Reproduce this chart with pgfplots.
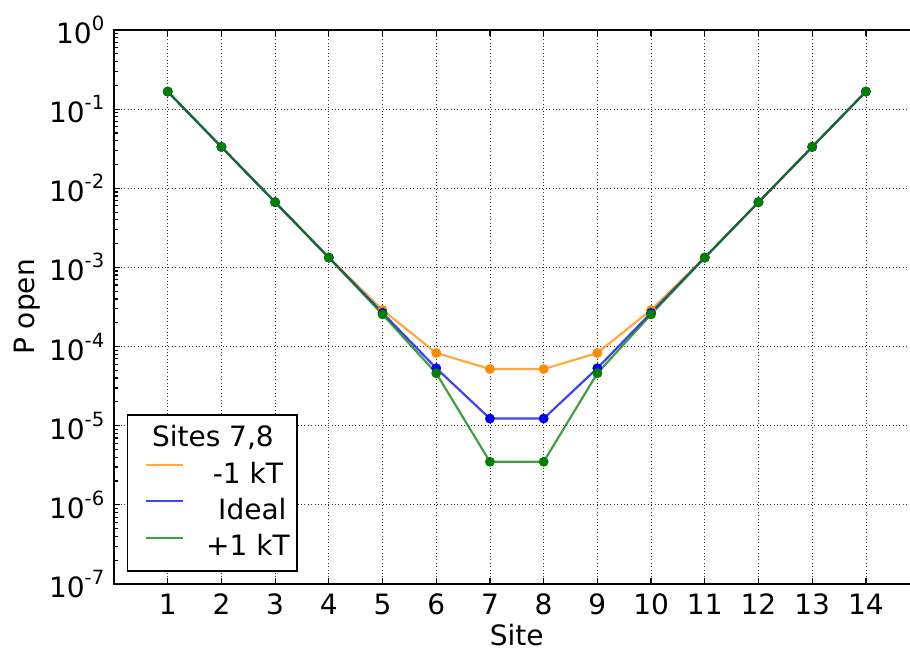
\documentclass[border=0pt]{standalone}
\usepackage{fontspec}
\setmainfont{DejaVu Sans}
\usepackage{pgfplots}
\usepackage{pgfplotstable}
\pgfplotsset{compat=1.18}

\definecolor{cOrange}{RGB}{255,140,0}
\definecolor{cBlue}{RGB}{0,0,255}
\definecolor{cGreen}{RGB}{0,128,0}

% Open probability per site for the three defect energies at sites 7,8
\pgfplotstableread{
site  minus    ideal    plus
1     0.1667   0.1667   0.1667
2     0.0333   0.0333   0.0333
3     0.00667  0.00667  0.00667
4     0.00134  0.00133  0.00133
5     2.90e-4  2.67e-4  2.55e-4
6     8.3e-5   5.33e-5  4.6e-5
7     5.2e-5   1.23e-5  3.5e-6
8     5.2e-5   1.23e-5  3.5e-6
9     8.3e-5   5.33e-5  4.6e-5
10    2.90e-4  2.67e-4  2.55e-4
11    0.00134  0.00133  0.00133
12    0.00667  0.00667  0.00667
13    0.0333   0.0333   0.0333
14    0.1667   0.1667   0.1667
}\popen

\newcommand{\lbl}{\fontsize{14}{16.5}\selectfont}
\newcommand{\expo}[1]{10\raisebox{6.5pt}{\fontsize{9.8}{11}\selectfont #1}}

\begin{document}
\lbl
\begin{tikzpicture}
\begin{axis}[
  name=ax,
  scale only axis,
  width=402.8pt, height=277pt,
  xmin=0, xmax=15,
  ymode=log, log basis y=10,
  ymin=1e-7, ymax=1,
  xtick={1,...,14},
  xticklabels={1,2,3,4,5,6,7,8,9,10,11,12,13,14},
  ytick={1e-7,1e-6,1e-5,1e-4,1e-3,1e-2,1e-1,1},
  minor ytick={2e-7,3e-7,4e-7,5e-7,6e-7,7e-7,8e-7,9e-7,
               2e-6,3e-6,4e-6,5e-6,6e-6,7e-6,8e-6,9e-6,
               2e-5,3e-5,4e-5,5e-5,6e-5,7e-5,8e-5,9e-5,
               2e-4,3e-4,4e-4,5e-4,6e-4,7e-4,8e-4,9e-4,
               2e-3,3e-3,4e-3,5e-3,6e-3,7e-3,8e-3,9e-3,
               2e-2,3e-2,4e-2,5e-2,6e-2,7e-2,8e-2,9e-2,
               0.2,0.3,0.4,0.5,0.6,0.7,0.8,0.9},
  yticklabel={\pgfmathparse{int(round(\tick))}\expo{\pgfmathresult}},
  /pgf/number format/assume math mode=true,
  tick label style={font=\lbl},
  tick align=inside,
  major tick length=3pt,
  minor tick length=2pt,
  tick style={black, line width=0.6pt},
  axis line style={black, line width=0.9pt},
  grid=major,
  major grid style={black!80, line width=0.4pt, dash pattern=on 0.4pt off 1.3pt},
  xlabel={Site},
  ylabel={P open},
  label style={font=\lbl},
  xlabel style={at={(axis description cs:0.5,-0.093)}, anchor=center},
  ylabel style={at={(axis description cs:-0.108,0.5)}, anchor=center},
  legend style={
    at={(axis description cs:0.016,0.0217)}, anchor=south west,
    draw=black, line width=0.8pt, fill=white,
    font=\lbl,
    inner xsep=8.5pt, inner ysep=5.6pt,
    column sep=16pt, row sep=6pt,
    nodes={inner sep=0pt, text height=10.2pt, text depth=2pt},
  },
  legend image code/.code={\draw[#1, mark=none, line width=1.1pt] (0pt,5pt) -- (18.5pt,5pt);},
]
\addlegendimage{empty legend}
\addlegendentry{\makebox[32pt][c]{\kern-35pt Sites 7,8}}

\addplot[cOrange, line width=1.1pt, draw opacity=0.75, mark=*, mark size=2.3pt,
  mark options={draw opacity=1, fill opacity=1, line width=0.3pt}]
  table[x=site, y=minus] {\popen};
\addlegendentry{\makebox[32pt][c]{-1 kT}}

\addplot[cBlue, line width=1.1pt, draw opacity=0.75, mark=*, mark size=2.3pt,
  mark options={draw opacity=1, fill opacity=1, line width=0.3pt}]
  table[x=site, y=ideal] {\popen};
\addlegendentry{\makebox[32pt][c]{\ Ideal}}

\addplot[cGreen, line width=1.1pt, draw opacity=0.75, mark=*, mark size=2.3pt,
  mark options={draw opacity=1, fill opacity=1, line width=0.3pt}]
  table[x=site, y=plus] {\popen};
\addlegendentry{\makebox[32pt][c]{+1 kT}}
\end{axis}
% page frame: the axis box runs on past the right edge of the page
\pgfresetboundingbox
\path[use as bounding box] ([xshift=-57pt,yshift=-34pt]ax.south west)
  rectangle ([xshift=398pt,yshift=15pt]ax.north west);
\end{tikzpicture}
\end{document}
